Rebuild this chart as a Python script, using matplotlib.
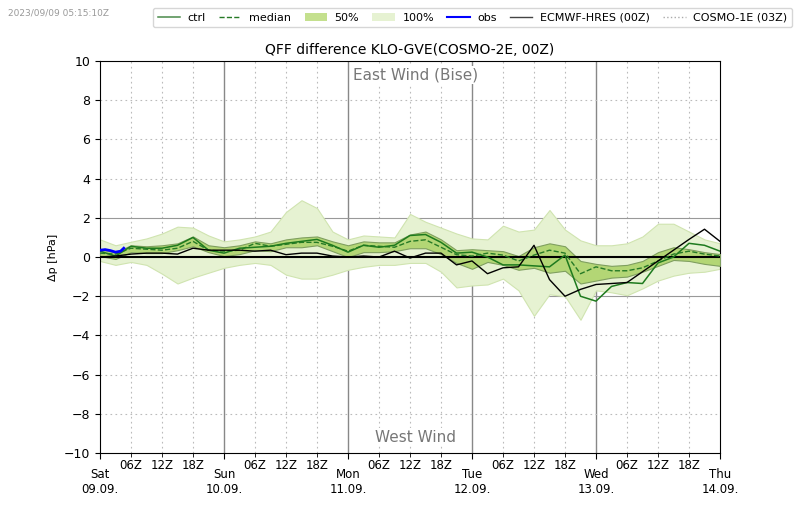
import matplotlib
matplotlib.use("Agg")
import matplotlib.pyplot as plt
import numpy as np
from matplotlib.lines import Line2D
from matplotlib.patches import Patch

# lead time in hours from Sat 09.09. 00Z, 3-hourly
hours = np.arange(0, 121, 3)

ens_max = [0.9, 0.6, 0.78, 0.95, 1.2, 1.55, 1.5, 1.1, 0.8, 0.9, 1.05, 1.3, 2.3, 2.9,
           2.5, 1.3, 0.9, 1.1, 1.05, 1.0, 2.2, 1.8, 1.5, 1.2, 0.95, 0.9, 1.6, 1.3,
           1.4, 2.4, 1.4, 0.85, 0.6, 0.6, 0.7, 1.05, 1.7, 1.7, 1.3, 0.9, 0.7]
ens_min = [-0.2, -0.4, -0.25, -0.4, -0.85, -1.35, -1.05, -0.8, -0.55, -0.4, -0.3, -0.4,
           -0.9, -1.1, -1.1, -0.9, -0.65, -0.5, -0.4, -0.4, -0.3, -0.3, -0.75, -1.55,
           -1.45, -1.4, -1.1, -1.7, -3.0, -1.9, -2.0, -3.2, -1.7, -1.8, -1.95, -1.6,
           -1.2, -0.95, -0.8, -0.75, -0.6]
p75 = [0.4, 0.25, 0.6, 0.55, 0.6, 0.7, 1.05, 0.6, 0.5, 0.6, 0.8, 0.7, 0.9, 1.0, 1.05,
       0.8, 0.6, 0.8, 0.75, 0.75, 1.15, 1.3, 0.9, 0.35, 0.4, 0.35, 0.3, 0.05, 0.5, 0.7,
       0.55, -0.2, -0.35, -0.45, -0.4, -0.2, 0.25, 0.5, 0.4, 0.25, 0.15]
p25 = [0.05, -0.1, 0.25, 0.2, 0.2, 0.35, 0.55, 0.25, 0.05, 0.15, 0.35, 0.3, 0.5, 0.5,
       0.6, 0.3, 0.0, 0.25, 0.25, 0.3, 0.45, 0.45, 0.15, -0.3, -0.6, -0.25, -0.4, -0.65,
       -0.55, -0.8, -0.7, -1.35, -1.2, -1.05, -1.0, -0.75, -0.45, -0.15, -0.2, -0.35,
       -0.45]
median = [0.2, 0.15, 0.45, 0.4, 0.35, 0.45, 0.8, 0.35, 0.3, 0.35, 0.7, 0.55, 0.65, 0.75,
          0.75, 0.55, 0.3, 0.6, 0.55, 0.5, 0.8, 0.88, 0.5, 0.12, 0.05, 0.2, 0.1, -0.2,
          0.1, 0.35, 0.2, -0.85, -0.5, -0.7, -0.7, -0.55, -0.2, 0.15, 0.3, 0.15, 0.05]
ctrl = [0.3, 0.05, 0.55, 0.45, 0.45, 0.6, 1.0, 0.35, 0.2, 0.45, 0.5, 0.55, 0.7, 0.8,
        0.9, 0.6, 0.25, 0.6, 0.5, 0.6, 1.1, 1.15, 0.75, 0.2, 0.25, 0.0, -0.4, -0.4,
        -0.45, -0.5, 0.1, -2.0, -2.25, -1.5, -1.3, -1.35, -0.3, 0.0, 0.7, 0.6, 0.3]
ecmwf = [0.0, 0.05, 0.15, 0.2, 0.2, 0.15, 0.45, 0.35, 0.35, 0.35, 0.3, 0.35, 0.12, 0.2,
         0.2, 0.05, 0.0, 0.05, 0.0, 0.3, -0.05, 0.2, 0.2, -0.4, -0.2, -0.85, -0.55, -0.5,
         0.6, -1.15, -2.0, -1.65, -1.4, -1.35, -1.3, -0.75, -0.2, 0.35, 0.9, 1.42, 0.8]

obs_hours = [0, 1, 2, 3, 4, 4.6]
obs = [0.35, 0.38, 0.33, 0.25, 0.3, 0.45]

day_labels = ["Sat\n09.09.", "Sun\n10.09.", "Mon\n11.09.", "Tue\n12.09.",
              "Wed\n13.09.", "Thu\n14.09."]
hour_labels = ["06Z", "12Z", "18Z"]

fig = plt.figure(figsize=(8, 5.09), dpi=100)
ax = fig.add_axes([0.125, 0.11, 0.775, 0.77])

ax.fill_between(hours, ens_min, ens_max, color="#e6f2d2", edgecolor="#d0e4b0",
                linewidth=0.8, zorder=2)
ax.fill_between(hours, p25, p75, color="#b3d675", edgecolor="#7f9f5f",
                linewidth=0.8, zorder=3)
ax.axhline(0, color="black", linewidth=1.5, zorder=4)
ax.plot(hours, median, color="#267a26", linestyle="--", linewidth=1.0, zorder=5)
ax.plot(hours, ctrl, color="#1e7a1e", linewidth=1.1, zorder=6)
ax.plot(hours, ecmwf, color="black", linewidth=1.0, zorder=7)
ax.plot(obs_hours, obs, color="blue", linewidth=2, zorder=8)

ax.set_xlim(0, 120)
ax.set_ylim(-10, 10)
ax.set_yticks(np.arange(-10, 11, 2))
ax.tick_params(axis="y", labelsize=9)

ax.set_xticks(np.arange(0, 121, 24))
ax.set_xticklabels(day_labels)
minor = [d * 24 + h for d in range(5) for h in (6, 12, 18)]
ax.set_xticks(minor, minor=True)
ax.set_xticklabels(hour_labels * 5, minor=True)
ax.tick_params(axis="x", which="major", labelsize=8.5, pad=7, length=4)
ax.tick_params(axis="x", which="minor", labelsize=8.5, pad=1, length=3)

# grid
for d in range(1, 5):
    ax.axvline(d * 24, color="#888888", linewidth=1.0, zorder=1)
for m in minor:
    ax.axvline(m, color="#bbbbbb", linewidth=0.8, linestyle=(0, (1.5, 3)), zorder=1)
for yv in range(-8, 9, 2):
    if abs(yv) == 2:
        ax.axhline(yv, color="#999999", linewidth=0.8, zorder=1)
    elif yv != 0:
        ax.axhline(yv, color="#bbbbbb", linewidth=0.8, linestyle=(0, (1.5, 3)), zorder=1)

ax.text(61, 9.3, "East Wind (Bise)", ha="center", va="center", fontsize=11,
        color="#777777", zorder=1.5,
        bbox=dict(facecolor="white", edgecolor="none", pad=1))
ax.text(61, -9.2, "West Wind", ha="center", va="center", fontsize=11,
        color="#777777", zorder=1.5,
        bbox=dict(facecolor="white", edgecolor="none", pad=1))

ax.set_title("QFF difference KLO-GVE(COSMO-2E, 00Z)", fontsize=10, pad=5)
ax.set_ylabel("Δp [hPa]", fontsize=8, labelpad=4)

handles = [
    Line2D([], [], color="#4a8a4a", linewidth=1.1),
    Line2D([], [], color="#267a26", linestyle="--", linewidth=1.0),
    Patch(facecolor="#c4e08e", edgecolor="none"),
    Patch(facecolor="#e6f2d2", edgecolor="none"),
    Line2D([], [], color="blue", linewidth=1.5),
    Line2D([], [], color="#444444", linewidth=1.0),
    Line2D([], [], color="#aaaaaa", linestyle=":", linewidth=1.0),
]
names = ["ctrl", "median", "50%", "100%", "obs", "ECMWF-HRES (00Z)", "COSMO-1E (03Z)"]
fig.legend(handles, names, loc="upper right", bbox_to_anchor=(0.997, 0.995), ncol=7,
           fontsize=8, frameon=True, columnspacing=1.2, handlelength=2.0,
           handletextpad=0.7, borderpad=0.4)

fig.text(0.01, 0.975, "2023/09/09 05:15:10Z", fontsize=6.5, color="#999999",
         va="center")

fig.savefig("out.png", dpi=100)
